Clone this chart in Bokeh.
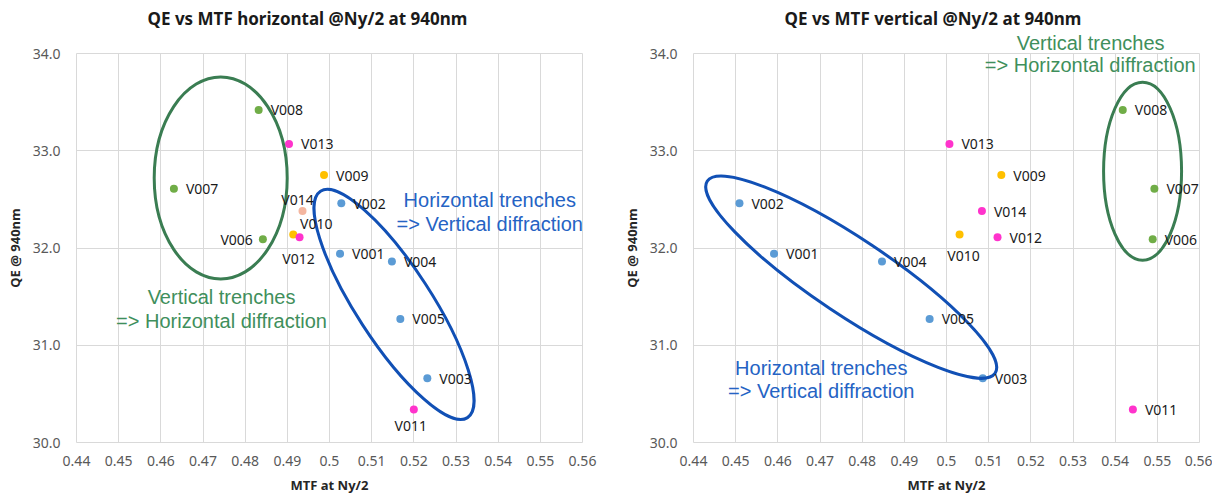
from bokeh.plotting import figure
from bokeh.models import Range1d, FixedTicker, NumeralTickFormatter, ColumnDataSource, LabelSet, Label, Title
from bokeh.core.properties import value
from bokeh.layouts import row
from bokeh.embed import file_html
from bokeh.resources import INLINE
import math

# ---------------- data ----------------
names = ["V001", "V002", "V003", "V004", "V005", "V006", "V007",
         "V008", "V009", "V010", "V011", "V012", "V013", "V014"]
mtf_h = [0.5025, 0.5028, 0.5232, 0.5148, 0.5168, 0.4842, 0.4631,
         0.4832, 0.4987, 0.4914, 0.5200, 0.4929, 0.4904, 0.4936]
mtf_v = [0.4591, 0.4509, 0.5086, 0.4847, 0.4960, 0.5489, 0.5493,
         0.5418, 0.5130, 0.5031, 0.5442, 0.5121, 0.5007, 0.5084]
qe = [31.94, 32.46, 30.66, 31.86, 31.27, 32.09, 32.61,
      33.42, 32.75, 32.14, 30.34, 32.11, 33.07, 32.38]
x_ticks = [0.44, 0.45, 0.46, 0.47, 0.48, 0.49, 0.50, 0.51, 0.52, 0.53, 0.54, 0.55, 0.56]
y_ticks = [30, 31, 32, 33, 34]

# ---------------- styles ----------------
BLUE, GREEN, ORANGE, MAGENTA, SALMON = "#5b9bd5", "#70ad47", "#ffc000", "#ff33cc", "#f4b6a0"
colors_h = [BLUE] * 5 + [GREEN] * 3 + [ORANGE] * 2 + [MAGENTA] * 3 + [SALMON]
colors_v = [BLUE] * 5 + [GREEN] * 3 + [ORANGE] * 2 + [MAGENTA] * 4

# label layout: (align, dx, dy) in screen px, dy positive = down
lab_h = {"V006": ("right", -10, 0), "V014": ("center", -5, -12), "V010": ("center", 23, -11),
         "V012": ("center", -1, 21), "V011": ("center", -3, 16)}
lab_v = {"V010": ("center", 4, 21)}

ELL_BLUE, TXT_BLUE = "#1150b5", "#2563c4"
ELL_GREEN, TXT_GREEN = "#3a7d52", "#3f8f5c"


def style_main_title(t, offset):
    t.align = "left"
    t.offset = offset
    t.standoff = 0
    t.text_font = "Noto Sans"
    t.text_font_size = "17px"
    t.text_font_style = "bold"
    t.text_color = "#1a1a1a"


def make_fig(xs, colors, labs, width, left_border, right_border):
    p = figure(width=width, height=498, output_backend="svg", toolbar_location=None,
               x_range=Range1d(0.44, 0.56), y_range=Range1d(30, 34),
               min_border_left=left_border, min_border_right=right_border,
               min_border_top=53, min_border_bottom=56)
    p.outline_line_color = "#d9d9d9"
    for ax in (p.xaxis[0], p.yaxis[0]):
        ax.axis_line_color = None
        ax.major_tick_line_color = None
        ax.minor_tick_line_color = None
        ax.major_tick_out = 0
        ax.major_tick_in = 0
        ax.minor_tick_out = 0
        ax.minor_tick_in = 0
        ax.major_label_text_font = "Noto Sans"
        ax.major_label_text_font_size = "14px"
        ax.major_label_text_color = "#595959"
        ax.axis_label_text_font = "Noto Sans"
        ax.axis_label_text_font_size = "13px"
        ax.axis_label_text_font_style = "bold"
        ax.axis_label_text_color = "#262626"
    p.xaxis[0].ticker = FixedTicker(ticks=x_ticks)
    p.xaxis[0].formatter = NumeralTickFormatter(format="0.0[0]")
    p.yaxis[0].ticker = FixedTicker(ticks=y_ticks)
    p.yaxis[0].formatter = NumeralTickFormatter(format="0.0")
    p.xaxis[0].axis_label = "MTF at Ny/2"
    p.yaxis[0].axis_label = "QE @ 940nm"
    p.xaxis[0].major_label_standoff = 13
    p.xaxis[0].axis_label_standoff = 7
    p.yaxis[0].major_label_standoff = 16
    p.yaxis[0].axis_label_standoff = 6
    p.grid.grid_line_color = "#d9d9d9"
    p.grid.grid_line_width = 1

    p.scatter(xs, qe, size=8, fill_color=colors, line_color=None)

    groups = {}
    for i, n in enumerate(names):
        al, dx, dy = labs.get(n, ("left", 12, 0))
        g = groups.setdefault(al, {"x": [], "y": [], "t": [], "dx": [], "dy": []})
        g["x"].append(xs[i]); g["y"].append(qe[i]); g["t"].append(n)
        g["dx"].append(dx); g["dy"].append(-dy)
    for al, g in groups.items():
        src = ColumnDataSource(g)
        p.add_layout(LabelSet(x="x", y="y", text="t", source=src, x_offset="dx", y_offset="dy",
                              text_align=al, text_baseline="middle", text_font=value("Noto Sans"),
                              text_font_size="14px", text_color="#1a1a1a"))
    return p


def note(p, x, y1, y2, l1, l2, color):
    for yy, tt in ((y1, l1), (y2, l2)):
        if tt is None:
            continue
        p.add_layout(Label(x=x, y=yy, text=tt, text_align="center", text_baseline="middle",
                           text_font="Liberation Sans", text_font_size="20px", text_color=color))


def near_title(text, color, offset):
    # title panel right above the frame (second title row)
    return Title(text=text, align="right", offset=offset, standoff=0, text_font="Liberation Sans",
                 text_font_size="20px", text_font_style="normal", text_color=color)


p1 = make_fig(mtf_h, colors_h, lab_h, 616, 76, 34)
p1.title.text = "QE vs MTF horizontal @Ny/2 at 940nm"
style_main_title(p1.title, 71)
p1.add_layout(near_title(" ", TXT_GREEN, 35), "above")
p1.ellipse(x=[0.4742], y=[32.72], width=[133], height=[202], angle=[0],
           width_units="screen", height_units="screen",
           fill_color=None, line_color=ELL_GREEN, line_width=3)
p1.ellipse(x=[0.5153], y=[31.42], width=[270], height=[75], angle=[math.radians(-57)],
           width_units="screen", height_units="screen",
           fill_color=None, line_color=ELL_BLUE, line_width=3)
note(p1, 0.5380, 32.494, 32.247, "Horizontal trenches", "=> Vertical diffraction", TXT_BLUE)
note(p1, 0.4744, 31.496, 31.249, "Vertical trenches", "=> Horizontal diffraction", TXT_GREEN)

p2 = make_fig(mtf_v, colors_v, lab_v, 596, 77, 13)
p2.title.text = "QE vs MTF vertical @Ny/2 at 940nm"
style_main_title(p2.title, 91)
p2.add_layout(near_title("Vertical trenches", TXT_GREEN, 35), "above")
p2.ellipse(x=[0.5465], y=[32.79], width=[78], height=[178], angle=[0],
           width_units="screen", height_units="screen",
           fill_color=None, line_color=ELL_GREEN, line_width=3)
p2.ellipse(x=[0.4774], y=[31.70], width=[346], height=[76], angle=[math.radians(-33.7)],
           width_units="screen", height_units="screen",
           fill_color=None, line_color=ELL_BLUE, line_width=3)
note(p2, 0.5341, None, 33.884, None, "=> Horizontal diffraction", TXT_GREEN)
note(p2, 0.4703, 30.768, 30.528, "Horizontal trenches", "=> Vertical diffraction", TXT_BLUE)

layout = row(p1, p2)
open("out.html", "w").write(file_html(layout, INLINE))
